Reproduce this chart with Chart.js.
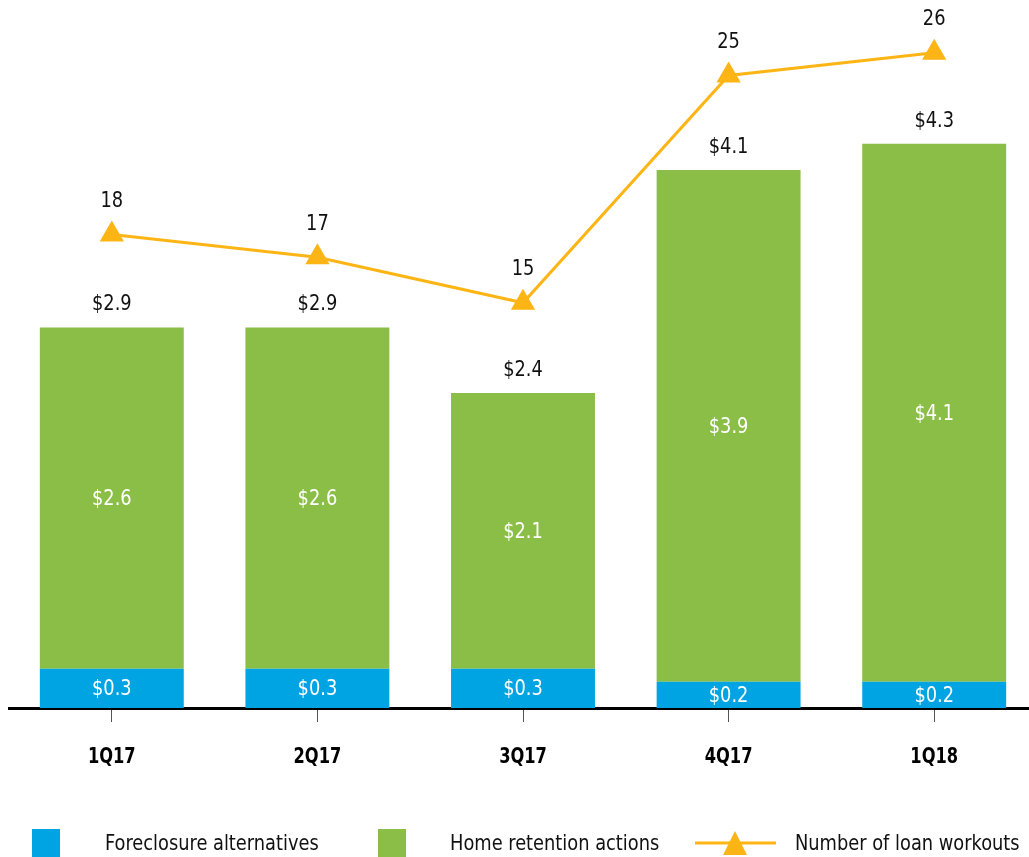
<!DOCTYPE html>
<html>
<head>
<meta charset="utf-8">
<script src="https://cdn.jsdelivr.net/npm/chart.js@4.4.1/dist/chart.umd.min.js"></script>
<style>
  html, body { margin: 0; padding: 0; background: #fff; overflow: hidden; }
  body { width: 1029px; height: 857px; position: relative; font-family: 'DejaVu Sans Condensed', sans-serif; }
  #wrap { position: absolute; left: 0; top: 0; width: 1038px; height: 857px; }
  .leg { position: absolute; font-size: 22px; color: #111; line-height: 26px; white-space: nowrap; transform: scaleX(0.9); transform-origin: left center; }
  .box { position: absolute; width: 28px; height: 30px; }
</style>
</head>
<body>
<div id="wrap"><canvas id="workoutsChart" width="1038" height="857"></canvas></div>

<div class="box" style="left:32px; top:829px; background:#00A4E2;"></div>
<div class="leg" style="left:105px; top:830px;">Foreclosure alternatives</div>
<div class="box" style="left:378px; top:829px; background:#8ABE46;"></div>
<div class="leg" style="left:450px; top:830px;">Home retention actions</div>
<canvas id="legLine" width="90" height="30" style="position:absolute; left:690px; top:828px;"></canvas>
<div class="leg" style="left:795px; top:830px;">Number of loan workouts</div>

<script>
// Donnees
const quarters = ['1Q17', '2Q17', '3Q17', '4Q17', '1Q18'];
const foreclosureAlt = [0.3, 0.3, 0.3, 0.2, 0.2];
const homeRetention = [2.6, 2.6, 2.1, 3.9, 4.1];
const loanWorkouts = [18, 17, 15, 25, 26];

const BLUE = '#00A4E2';
const GREEN = '#8ABE46';
const ORANGE = '#FDB515';
const FONT = "'DejaVu Sans Condensed', sans-serif";

Chart.defaults.font.family = FONT;

// texte "condense" : on ecrase horizontalement
function narrowText(ctx, txt, x, y, sx) {
    ctx.save();
    ctx.translate(x, y);
    ctx.scale(sx, 1);
    ctx.fillText(txt, 0, 0);
    ctx.restore();
}

// Etiquettes dessinees sur les barres, les points et l'axe x
const labelPlugin = {
    id: 'valueLabels',
    afterDatasetsDraw(chart) {
        const ctx = chart.ctx;
        ctx.save();
        ctx.font = '22px ' + FONT;
        ctx.textAlign = 'center';
        ctx.textBaseline = 'middle';

        const metaBlue = chart.getDatasetMeta(0);
        const metaGreen = chart.getDatasetMeta(1);
        const metaLine = chart.getDatasetMeta(2);

        ctx.fillStyle = '#fff';
        metaBlue.data.forEach((el, i) => {
            narrowText(ctx, '$' + foreclosureAlt[i].toFixed(1), el.x, (el.y + el.base) / 2 + 1, 0.9);
        });
        metaGreen.data.forEach((el, i) => {
            narrowText(ctx, '$' + homeRetention[i].toFixed(1), el.x, (el.y + el.base) / 2 + 1, 0.9);
        });

        ctx.fillStyle = '#111';
        metaGreen.data.forEach((el, i) => {
            const total = foreclosureAlt[i] + homeRetention[i];
            narrowText(ctx, '$' + total.toFixed(1), el.x, el.y - 23, 0.9);
        });
        metaLine.data.forEach((pt, i) => {
            narrowText(ctx, String(loanWorkouts[i]), pt.x, pt.y - 33, 0.9);
        });

        // libelles de l'axe x
        const xs = chart.scales.x;
        ctx.font = 'bold 21px ' + FONT;
        ctx.fillStyle = '#000';
        quarters.forEach((q, i) => {
            narrowText(ctx, q, xs.getPixelForTick(i), chart.chartArea.bottom + 50, 0.86);
        });
        ctx.restore();
    }
};

const ctx = document.getElementById('workoutsChart').getContext('2d');
const chart = new Chart(ctx, {
    type: 'bar',
    data: {
        labels: quarters,
        datasets: [
            { label: 'Foreclosure alternatives', data: foreclosureAlt, backgroundColor: BLUE, yAxisID: 'y', order: 1, barPercentage: 0.7, categoryPercentage: 1.0 },
            { label: 'Home retention actions', data: homeRetention, backgroundColor: GREEN, yAxisID: 'y', order: 1, barPercentage: 0.7, categoryPercentage: 1.0 },
            { type: 'line', label: 'Number of loan workouts', data: loanWorkouts, yAxisID: 'y1', order: 0,
              borderColor: ORANGE, borderWidth: 3, pointStyle: 'triangle', pointRadius: 14, pointHoverRadius: 14,
              pointBackgroundColor: ORANGE, pointBorderColor: ORANGE, pointBorderWidth: 0, tension: 0 }
        ]
    },
    options: {
        responsive: false,
        animation: false,
        layout: { autoPadding: false, padding: { left: 9, right: 1, top: 0, bottom: 0 } },
        plugins: { legend: { display: false }, tooltip: { enabled: false } },
        scales: {
            x: {
                stacked: true,
                border: { display: true, color: '#000', width: 3 },
                grid: { offset: false, drawOnChartArea: false, drawTicks: true, tickLength: 14, color: '#555', lineWidth: 1 },
                ticks: { display: false },
                afterFit(scale) { scale.height = 149; }
            },
            y: { stacked: true, display: false, min: 0, max: 5.396 },
            y1: { display: false, position: 'right', min: -2.83, max: 28.32, grid: { drawOnChartArea: false } }
        }
    },
    plugins: [labelPlugin]
});

// Legende de la ligne
const lc = document.getElementById('legLine').getContext('2d');
lc.strokeStyle = ORANGE; lc.lineWidth = 3;
lc.beginPath(); lc.moveTo(5, 15); lc.lineTo(86, 15); lc.stroke();
lc.fillStyle = ORANGE;
lc.beginPath(); lc.moveTo(45, 3); lc.lineTo(57, 27); lc.lineTo(33, 27); lc.closePath(); lc.fill();
</script>
</body>
</html>
